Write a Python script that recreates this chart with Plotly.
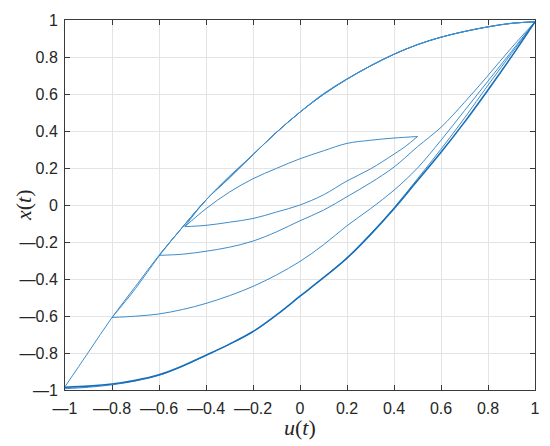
import plotly.graph_objects as go

# ---------------- data ----------------
u_asc = [-1.0, -0.9, -0.8, -0.7, -0.6, -0.5, -0.4, -0.3, -0.2, -0.1, 0.0,
         0.1, 0.2, 0.3, 0.4, 0.5, 0.6, 0.7, 0.8, 0.9, 1.0]
x_major_asc_1 = [-0.985, -0.979, -0.968, -0.948, -0.918, -0.870, -0.812, -0.752, -0.684, -0.594, -0.493,
                 -0.393, -0.287, -0.160, -0.020, 0.132, 0.285, 0.448, 0.622, 0.802, 0.990]
x_major_asc_2 = [-0.993, -0.985, -0.972, -0.951, -0.921, -0.872, -0.813, -0.753, -0.685, -0.595, -0.494,
                 -0.392, -0.285, -0.156, -0.015, 0.142, 0.302, 0.470, 0.648, 0.820, 0.990]

u_desc_major = [1.0, 0.9, 0.8, 0.7, 0.6, 0.5, 0.4, 0.3, 0.2, 0.1, 0.0,
                -0.1, -0.2, -0.3, -0.4, -0.5, -0.6, -0.7, -0.8, -0.9, -1.0]
x_desc_major = [0.990, 0.982, 0.963, 0.938, 0.907, 0.867, 0.815, 0.752, 0.680, 0.598, 0.502,
                0.393, 0.272, 0.150, 0.027, -0.120, -0.272, -0.440, -0.608, -0.795, -0.982]

u_desc_to_m08 = [1.0, 0.9, 0.8, 0.7, 0.6, 0.5, 0.4, 0.3, 0.2, 0.1, 0.0,
                 -0.1, -0.2, -0.3, -0.4, -0.5, -0.6, -0.7, -0.8]
x_desc_to_m08 = [0.990, 0.982, 0.963, 0.938, 0.907, 0.867, 0.815, 0.752, 0.680, 0.598, 0.502,
                 0.393, 0.272, 0.150, 0.027, -0.120, -0.276, -0.452, -0.608]

u_desc_to_m06 = [1.0, 0.9, 0.8, 0.7, 0.6, 0.5, 0.4, 0.3, 0.2, 0.1, 0.0,
                 -0.1, -0.2, -0.3, -0.4, -0.5, -0.6]
x_desc_to_m06 = [0.990, 0.982, 0.963, 0.938, 0.907, 0.867, 0.815, 0.752, 0.682, 0.602, 0.502,
                 0.393, 0.272, 0.156, 0.027, -0.120, -0.272]

u_desc_to_m049 = [1.0, 0.9, 0.8, 0.7, 0.6, 0.5, 0.4, 0.3, 0.2, 0.1, 0.0,
                  -0.1, -0.2, -0.3, -0.4, -0.49]
x_desc_to_m049 = [0.990, 0.982, 0.963, 0.938, 0.907, 0.867, 0.815, 0.752, 0.680, 0.598, 0.502,
                  0.393, 0.272, 0.146, 0.027, -0.117]

u_forc_m08 = [-0.8, -0.7, -0.6, -0.5, -0.4, -0.3, -0.2, -0.1, 0.0, 0.1,
              0.2, 0.3, 0.4, 0.5, 0.6, 0.7, 0.8, 0.9, 1.0]
x_forc_m08 = [-0.608, -0.601, -0.589, -0.565, -0.532, -0.490, -0.440, -0.378, -0.305, -0.215,
              -0.112, -0.020, 0.080, 0.200, 0.350, 0.510, 0.670, 0.830, 0.990]

u_forc_m06 = [-0.6, -0.5, -0.4, -0.3, -0.2, -0.1, 0.0, 0.1, 0.2,
              0.3, 0.4, 0.5, 0.6, 0.7, 0.8, 0.9, 1.0]
x_forc_m06 = [-0.272, -0.266, -0.250, -0.228, -0.195, -0.145, -0.085, -0.028, 0.045,
              0.120, 0.205, 0.315, 0.420, 0.555, 0.700, 0.850, 0.990]

u_minor_asc = [-0.49, -0.4, -0.3, -0.2, -0.1, 0.0, 0.1, 0.2, 0.3, 0.4, 0.45, 0.5]
x_minor_asc = [-0.117, -0.110, -0.093, -0.073, -0.038, 0.000, 0.055, 0.130, 0.195, 0.275, 0.318, 0.370]

u_minor_desc = [0.5, 0.4, 0.3, 0.2, 0.1, 0.0, -0.1, -0.2, -0.3, -0.4, -0.49]
x_minor_desc = [0.370, 0.362, 0.350, 0.333, 0.293, 0.250, 0.198, 0.142, 0.070, -0.020, -0.117]

tick_vals = [-1, -0.8, -0.6, -0.4, -0.2, 0, 0.2, 0.4, 0.6, 0.8, 1]
tick_text = ["\u20141", "\u20140.8", "\u20140.6", "\u20140.4", "\u20140.2", "0", "0.2", "0.4", "0.6", "0.8", "1"]

# ---------------- figure ----------------
thin = dict(color="rgb(62,140,203)", width=1, shape="spline", smoothing=1.0)
bold = dict(color="rgb(22,110,186)", width=1.6, shape="spline", smoothing=1.0)

fig = go.Figure()
curves = [
    (u_desc_major, x_desc_major, thin),
    (u_desc_to_m08, x_desc_to_m08, thin),
    (u_desc_to_m06, x_desc_to_m06, thin),
    (u_desc_to_m049, x_desc_to_m049, thin),
    (u_forc_m08, x_forc_m08, thin),
    (u_forc_m06, x_forc_m06, thin),
    (u_minor_asc, x_minor_asc, thin),
    (u_minor_desc, x_minor_desc, thin),
    (u_asc, x_major_asc_2, thin),
    (u_asc, x_major_asc_1, bold),
]
for u, x, ln in curves:
    fig.add_trace(go.Scatter(x=u, y=x, mode="lines", line=ln, hoverinfo="skip"))

axis_common = dict(
    range=[-1, 1], tickmode="array", tickvals=tick_vals, ticktext=tick_text,
    ticks="inside", ticklen=5, tickwidth=1, tickcolor="#3a3a3a",
    showline=True, linecolor="#3a3a3a", linewidth=1, mirror="ticks",
    showgrid=True, gridcolor="#e4e4e4", gridwidth=1, zeroline=False,
    automargin=False,
    tickfont=dict(family="Liberation Sans, Arial, sans-serif", size=16, color="#262626"),
)

title_font = dict(family="Liberation Serif, Times New Roman, serif", size=22, color="#262626")

fig.update_layout(
    width=550, height=446,
    margin=dict(l=65, r=15, t=20, b=56),
    plot_bgcolor="white", paper_bgcolor="white",
    showlegend=False,
    hovermode=False,
    xaxis=dict(axis_common, ticklabelstandoff=4),
    yaxis=dict(axis_common, ticklabelstandoff=3),
    annotations=[
        dict(text="<i>u</i>(<i>t</i>)", xref="paper", yref="paper", x=0.5, y=0,
             xanchor="center", yanchor="middle", yshift=-37, showarrow=False, font=title_font),
        dict(text="<i>x</i>(<i>t</i>)", xref="paper", yref="paper", x=0, y=0.5,
             xanchor="center", yanchor="middle", xshift=-42, textangle=-90,
             showarrow=False, font=title_font),
    ],
)

fig.write_html("out.html", config={"displayModeBar": False},
               post_script="document.body.style.margin='0px';document.body.style.overflow='hidden';")
